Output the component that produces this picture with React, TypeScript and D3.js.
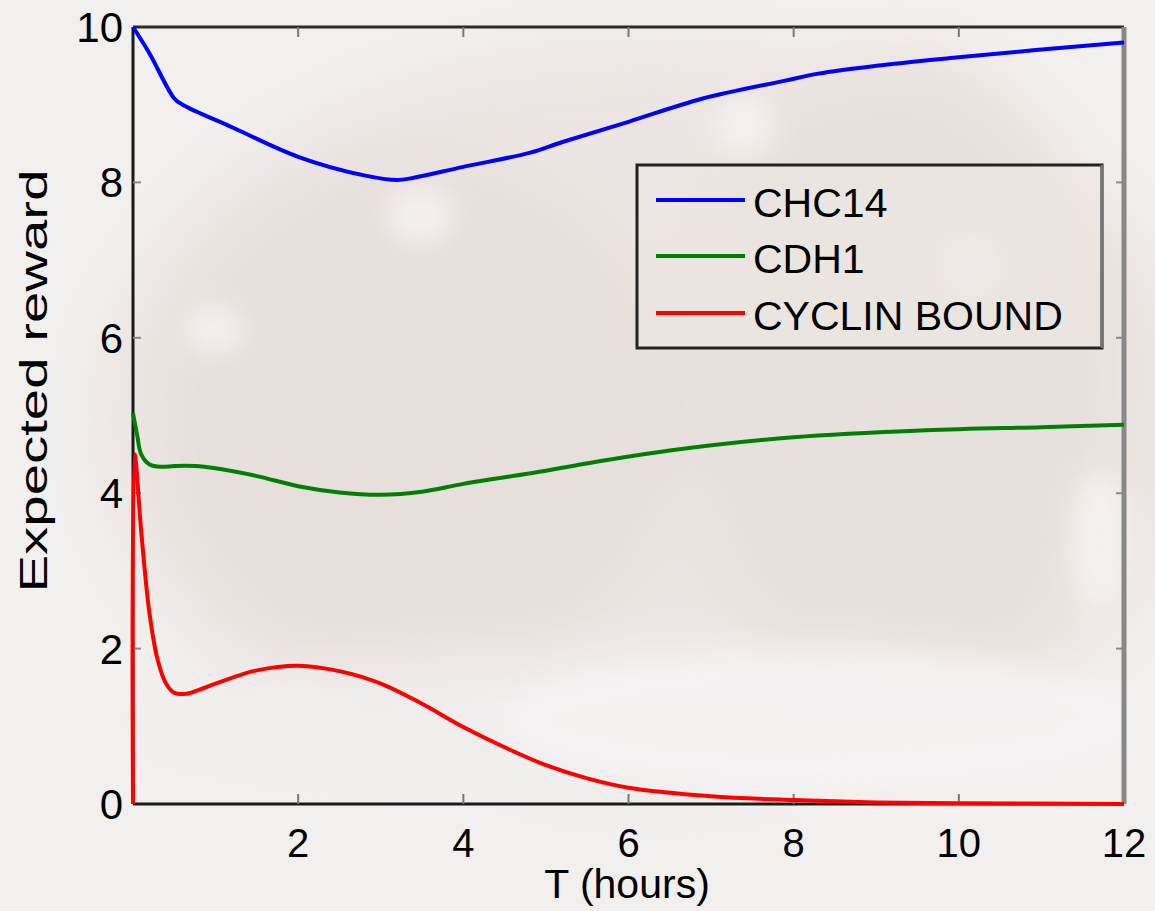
import React from "react";
import * as d3 from "d3";

const W = 1155;
const H = 911;

const xTicks = [2, 4, 6, 8, 10, 12];
const yTicks = [0, 2, 4, 6, 8, 10];

const seriesNames = ["CHC14", "CDH1", "CYCLIN BOUND"];
const seriesColors = ["#0000ff", "#008000", "#ff0000"];

const tBlue = [0, 0.2, 0.5, 0.6, 1.2, 2, 2.8, 3.2, 3.4, 4, 4.8, 5.2, 6, 6.9, 7.9, 8.3, 9, 9.9, 10.9, 12];
const blue = [10, 9.66, 9.08, 9.0, 8.71, 8.33, 8.09, 8.03, 8.06, 8.2, 8.38, 8.52, 8.78, 9.08, 9.31, 9.4, 9.5, 9.6, 9.7, 9.8];

const tGreen = [0, 0.05, 0.1, 0.2, 0.35, 0.5, 0.75, 1, 1.5, 2, 2.5, 3, 3.5, 4, 5, 5.7, 6.5, 8, 9.6, 11, 12];
const green = [5.03, 4.75, 4.5, 4.37, 4.34, 4.35, 4.35, 4.32, 4.22, 4.09, 4.01, 3.98, 4.02, 4.12, 4.29, 4.42, 4.55, 4.72, 4.81, 4.85, 4.88];

const tRed = [0, 0.02, 0.1, 0.2, 0.3, 0.4, 0.5, 0.65, 0.8, 1, 1.5, 2, 2.5, 3, 3.5, 4, 4.5, 5, 5.5, 6, 7, 8, 9, 10, 12];
const red = [0, 4.5, 3.5, 2.45, 1.85, 1.55, 1.43, 1.42, 1.47, 1.55, 1.72, 1.78, 1.71, 1.55, 1.29, 0.99, 0.73, 0.5, 0.33, 0.21, 0.1, 0.05, 0.02, 0.01, 0];

const FONT = "'Liberation Sans', Arial, Helvetica, sans-serif";

export default function App() {
  const left = 133, right = 1124, top = 27, bottom = 804;
  const x = d3.scaleLinear().domain([0, 12]).range([left, right]);
  const y = d3.scaleLinear().domain([0, 10]).range([bottom, top]);
  const line = d3
    .line<[number, number]>()
    .x((d) => x(d[0]))
    .y((d) => y(d[1]))
    .curve(d3.curveCatmullRom.alpha(0.5));

  const series = [
    tBlue.map((t, i) => [t, blue[i]] as [number, number]),
    tGreen.map((t, i) => [t, green[i]] as [number, number]),
    tRed.map((t, i) => [t, red[i]] as [number, number]),
  ];

  const legX = 637, legY = 165, legW = 465, legH = 183;
  const legRows = [200, 256, 313];

  return (
    <svg
      width={W}
      height={H}
      style={{ position: "absolute", left: 0, top: 0 }}
      fontFamily={FONT}
    >
      <defs>
        <filter id="blur" x="-50%" y="-50%" width="200%" height="200%">
          <feGaussianBlur stdDeviation="30" />
        </filter>
        <filter id="blur2" x="-50%" y="-50%" width="200%" height="200%">
          <feGaussianBlur stdDeviation="12" />
        </filter>
      </defs>
      <rect x={0} y={0} width={W} height={H} fill="#f2f0ef" />
      {/* faded photo background */}
      <g filter="url(#blur)">
        <ellipse cx={650} cy={420} rx={560} ry={380} fill="#ebe5e3" />
        <ellipse cx={420} cy={420} rx={260} ry={260} fill="#e6dfdc" />
        <ellipse cx={900} cy={380} rx={220} ry={330} fill="#e8e0dc" />
        <ellipse cx={620} cy={720} rx={500} ry={70} fill="#f0eded" />
      </g>
      <g filter="url(#blur2)" opacity={0.7}>
        <ellipse cx={420} cy={215} rx={35} ry={30} fill="#f7f5f5" />
        <ellipse cx={215} cy={330} rx={30} ry={25} fill="#f7f5f5" />
        <ellipse cx={290} cy={710} rx={60} ry={25} fill="#f2eeee" />
        <ellipse cx={745} cy={125} rx={30} ry={30} fill="#f7f5f5" />
        <ellipse cx={970} cy={265} rx={30} ry={30} fill="#f7f5f5" />
        <ellipse cx={1100} cy={540} rx={30} ry={70} fill="#f7f5f5" />
        <ellipse cx={820} cy={720} rx={320} ry={70} fill="#f6f4f4" />
      </g>

      {/* axes box */}
      <line x1={left} y1={top} x2={right} y2={top} stroke="#2a2a2a" strokeWidth={3} />
      <line x1={right} y1={top} x2={right} y2={bottom} stroke="#888" strokeWidth={5} />
      <line x1={left} y1={top} x2={left} y2={bottom} stroke="#1a1a1a" strokeWidth={3} />
      <line x1={left} y1={bottom} x2={right} y2={bottom} stroke="#1a1a1a" strokeWidth={3} />

      {/* ticks */}
      {xTicks.filter((t) => t < 12).map((t) => (
        <g key={"xt" + t} stroke="#777" strokeWidth={2}>
          <line x1={x(t)} x2={x(t)} y1={bottom} y2={bottom - 10} />
          <line x1={x(t)} x2={x(t)} y1={top} y2={top + 10} />
        </g>
      ))}
      {yTicks.filter((t) => t > 0 && t < 10).map((t) => (
        <g key={"yt" + t} stroke="#888" strokeWidth={2}>
          <line x1={left} x2={left + 8} y1={y(t)} y2={y(t)} />
          <line x1={right} x2={right - 8} y1={y(t)} y2={y(t)} />
        </g>
      ))}

      {/* tick labels */}
      {xTicks.map((t) => (
        <text
          key={"xl" + t}
          x={x(t)}
          y={857}
          textAnchor="middle"
          fontSize={40}
          fill="#000"
        >
          {t}
        </text>
      ))}
      {yTicks.map((t) => (
        <text
          key={"yl" + t}
          x={123}
          y={y(t) + 15}
          textAnchor="end"
          fontSize={42}
          fill="#000"
        >
          {t}
        </text>
      ))}

      {/* axis labels */}
      <text x={627} y={898} textAnchor="middle" fontSize={41} fill="#000">
        T (hours)
      </text>
      <text
        transform={`translate(47, 381) rotate(-90)`}
        textAnchor="middle"
        fontSize={38}
        textLength={423}
        lengthAdjust="spacingAndGlyphs"
        fill="#000"
      >
        Expected reward
      </text>

      {/* series */}
      {series.map((s, i) => (
        <path
          key={"s" + i}
          d={line(s) || ""}
          fill="none"
          stroke={seriesColors[i]}
          strokeWidth={4}
          strokeLinejoin="round"
        />
      ))}

      {/* legend */}
      <rect
        x={legX}
        y={legY}
        width={legW}
        height={legH}
        fill="#ede7e5"
        fillOpacity={0.6}
        stroke="#222"
        strokeWidth={3}
      />
      <line x1={legX + legW} y1={legY} x2={legX + legW} y2={legY + legH} stroke="#777" strokeWidth={3} />
      {seriesNames.map((n, i) => (
        <g key={"lg" + i}>
          <line
            x1={656}
            x2={745}
            y1={legRows[i]}
            y2={legRows[i]}
            stroke={seriesColors[i]}
            strokeWidth={4}
          />
          <text x={753} y={legRows[i] + 17} fontSize={41} fill="#000">
            {n}
          </text>
        </g>
      ))}
    </svg>
  );
}
